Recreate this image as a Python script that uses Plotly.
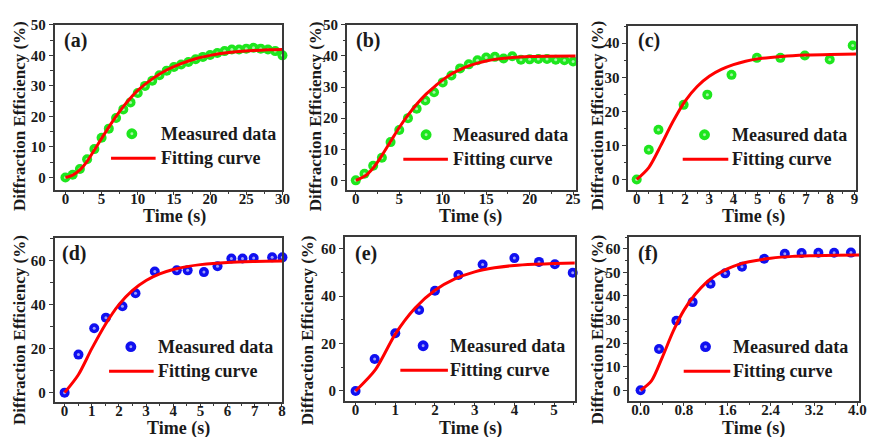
import plotly.graph_objects as go

# the page body keeps the browser's default 8px margin, so the figure starts at (8, 8)
OFF = 8
WIN_W, WIN_H = 875, 437
W, H = WIN_W - OFF, WIN_H - OFF

# ---------------- data ----------------
a_t = list(range(0, 31))
a_meas = [0, 0.9, 2.8, 6.0, 9.3, 13.0, 16.0, 19.5, 22.3, 24.6, 27.7, 30.0, 31.7, 33.5, 35.0, 36.2,
          37.0, 37.8, 38.7, 39.5, 40.1, 40.8, 41.4, 41.9, 41.9, 42.2, 42.5, 42.2, 41.9, 41.4, 40.0]
a_fit_t = [0, 1, 2, 3, 4, 5, 6, 7, 8, 9, 10, 12, 14, 16, 18, 20, 22, 24, 26, 28, 30]
a_fit = [0, 0.8, 2.5, 5.3, 9.0, 12.8, 16.5, 20.0, 23.2, 26.0, 28.5, 32.3, 35.2, 37.3, 38.9, 40.0,
         40.8, 41.3, 41.6, 41.8, 41.9]

b_t = list(range(0, 26))
b_meas = [0, 2.1, 4.7, 7.3, 12.3, 16.2, 20.0, 23.0, 25.7, 28.3, 31.5, 33.7, 36.0, 37.3, 38.6, 39.5,
          39.7, 39.2, 39.9, 38.8, 38.9, 39.0, 39.0, 38.8, 38.6, 38.2]
b_fit_t = [0, 1, 2, 3, 4, 5, 6, 7, 8, 9, 10, 11, 12, 13, 14, 15, 16, 18, 20, 22, 25.3]
b_fit = [0, 1.3, 4.0, 8.0, 12.5, 17.0, 21.0, 24.5, 27.5, 30.0, 32.3, 34.2, 35.6, 36.8, 37.7, 38.4,
         38.9, 39.5, 39.8, 39.9, 40.0]

c_t = [0, 0.5, 0.9, 1.94, 2.92, 3.92, 4.97, 5.94, 6.95, 7.98, 8.93]
c_meas = [0, 8.75, 14.6, 21.9, 24.9, 30.7, 35.7, 35.7, 36.4, 35.2, 39.3]
c_fit_t = [0, 0.5, 1, 1.5, 2, 2.5, 3, 3.5, 4, 4.5, 5, 6, 7, 8, 9.1]
c_fit = [0, 3.5, 10.0, 17.0, 23.0, 27.3, 30.3, 32.3, 33.7, 34.7, 35.4, 36.1, 36.5, 36.7, 36.8]

d_t = [0, 0.51, 1.09, 1.52, 2.13, 2.61, 3.32, 4.13, 4.53, 5.13, 5.63, 6.14, 6.55, 6.96, 7.64, 8.02]
d_meas = [0, 17.3, 29.3, 34.1, 39.3, 45.2, 55.1, 55.6, 55.6, 54.8, 57.5, 61.0, 61.0, 61.2, 61.5, 61.5]
d_fit_t = [0, 0.5, 1, 1.5, 2, 2.5, 3, 3.5, 4, 4.5, 5, 6, 7, 8.05]
d_fit = [0, 8.0, 20.0, 31.0, 40.0, 46.5, 51.0, 54.0, 56.0, 57.3, 58.2, 59.2, 59.6, 59.8]

e_t = [0, 0.48, 1.0, 1.6, 2.0, 2.59, 3.2, 4.0, 4.62, 5.02, 5.47]
e_meas = [0, 13.5, 24.4, 34.2, 42.3, 49.0, 53.4, 56.1, 54.5, 53.5, 49.9]
e_fit_t = [0, 0.5, 1, 1.5, 2, 2.5, 3, 3.5, 4, 4.5, 5, 5.55]
e_fit = [0, 9.0, 24.0, 35.0, 42.5, 47.3, 50.3, 52.0, 53.0, 53.5, 53.8, 54.0]

f_t = [0, 0.34, 0.66, 0.96, 1.29, 1.56, 1.87, 2.28, 2.66, 2.97, 3.28, 3.57, 3.88]
f_meas = [0, 17.5, 29.5, 37.4, 45.2, 49.6, 52.4, 55.8, 57.9, 58.2, 58.3, 58.3, 58.4]
f_fit_t = [0, 0.2, 0.4, 0.6, 0.8, 1.0, 1.2, 1.4, 1.6, 1.8, 2.0, 2.4, 2.8, 3.2, 3.6, 4.05]
f_fit = [0, 4.0, 14.0, 25.0, 34.0, 40.5, 45.5, 49.0, 51.5, 53.3, 54.5, 56.0, 56.8, 57.1, 57.3, 57.4]

panel_labels = ["(a)", "(b)", "(c)", "(d)", "(e)", "(f)"]
legend_names = ["Measured data", "Fitting curve"]
x_title = "Time (s)"
y_title = "Diffraction Efficiency (%)"

# ---------------- styling / layout ----------------
GREEN = "#1ee61e"
BLUE = "#1010f0"
HILITE = "rgba(255,255,255,0.6)"
RED = "#ff0000"
AXC = "#3a3a3a"
TXT = "#1a1a1a"
FONT = "Liberation Serif"

panels = [
    dict(t=a_t, m=a_meas, ft=a_fit_t, f=a_fit, col=GREEN,
         box=(55, 285, 17, 185), xr=[-1.5, 30], yr=[-4, 50], xd=5, xm=2.5, yd=10, ym=5, fmt=None),
    dict(t=b_t, m=b_meas, ft=b_fit_t, f=b_fit, col=GREEN,
         box=(350, 581, 17, 185), xr=[-1.03, 25.3], yr=[-3, 50], xd=5, xm=2.5, yd=10, ym=5, fmt=None),
    dict(t=c_t, m=c_meas, ft=c_fit_t, f=c_fit, col=GREEN,
         box=(634, 864, 18, 185), xr=[-0.35, 9.07], yr=[-3, 45.1], xd=1, xm=0.5, yd=10, ym=5, fmt=None),
    dict(t=d_t, m=d_meas, ft=d_fit_t, f=d_fit, col=BLUE,
         box=(55, 285, 234, 401), xr=[-0.37, 8.02], yr=[-4.1, 70.4], xd=1, xm=0.5, yd=20, ym=10, fmt=None),
    dict(t=e_t, m=e_meas, ft=e_fit_t, f=e_fit, col=BLUE,
         box=(348, 580, 233, 400), xr=[-0.27, 5.52], yr=[-4.1, 65.1], xd=1, xm=0.5, yd=20, ym=10, fmt=None),
    dict(t=f_t, m=f_meas, ft=f_fit_t, f=f_fit, col=BLUE,
         box=(635, 867, 233, 400), xr=[-0.21, 4.03], yr=[-4.4, 65.1], xd=0.8, xm=0.4, yd=10, ym=5, fmt=".1f"),
]

# legend placement in window pixels: (marker cx, marker cy, line x0, line x1, line y, text x)
legend_px = [
    (133, 128, 112, 157, 153, 160),
    (430, 129, 407, 452, 154, 455),
    (711, 129, 689, 735, 154, 737),
    (132, 345, 110, 155, 370, 157),
    (427, 344, 404, 452, 369, 452),
    (712, 345, 690, 737, 370, 738),
]
label_px = [(63, 33), (357, 33), (642, 33), (60, 250), (356, 250), (642, 250)]
# axis-title centres in window pixels: (x-title cx, cy, y-title cx, cy)
title_px = [(176, 212, 19, 110), (475, 212, 318, 110), (760, 212, 603, 110),
            (180, 428, 19, 328), (475, 428, 310, 328), (760, 428, 603, 328)]


def px(x):
    return (x - OFF) / W


def py(y):
    return 1 - (y - OFF) / H


fig = go.Figure()
shapes = []
annotations = []

for i, p in enumerate(panels):
    n = "" if i == 0 else str(i + 1)
    xa, ya = "x" + n, "y" + n
    fig.add_trace(go.Scatter(
        x=p["t"], y=p["m"], mode="markers",
        marker=dict(size=10, color=p["col"], line=dict(width=0)),
        xaxis=xa, yaxis=ya, showlegend=False, name=legend_names[0], cliponaxis=False))
    fig.add_trace(go.Scatter(
        x=p["t"], y=p["m"], mode="markers",
        marker=dict(size=3, color=HILITE, line=dict(width=0)),
        xaxis=xa, yaxis=ya, showlegend=False, hoverinfo="skip", cliponaxis=False))
    fig.add_trace(go.Scatter(
        x=p["ft"], y=p["f"], mode="lines", line=dict(color=RED, width=3, shape="spline", smoothing=0.8),
        xaxis=xa, yaxis=ya, showlegend=False, name=legend_names[1]))

    x0, x1, y0, y1 = p["box"]
    common = dict(showline=True, linecolor=AXC, linewidth=1.5, mirror=True, ticks="outside",
                  ticklen=4, tickwidth=1.3, tickcolor=AXC, showgrid=False, zeroline=False,
                  tickfont=dict(family=FONT, size=15, color=TXT, weight="bold"))
    xaxis = dict(domain=[px(x0), px(x1)], anchor=ya, range=p["xr"], dtick=p["xd"], tick0=0,
                 minor=dict(dtick=p["xm"], tick0=0, ticks="outside", ticklen=2.5, tickcolor=AXC),
                 ticklabelstandoff=-9, **common)
    if p["fmt"]:
        xaxis["tickformat"] = p["fmt"]
    yaxis = dict(domain=[py(y1), py(y0)], anchor=xa, range=p["yr"], dtick=p["yd"], tick0=0,
                 minor=dict(dtick=p["ym"], tick0=0, ticks="outside", ticklen=2.5, tickcolor=AXC),
                 **common)
    fig.update_layout(**{"xaxis" + n: xaxis, "yaxis" + n: yaxis})

    # axis titles
    xtx, xty, ytx, yty = title_px[i]
    annotations.append(dict(text=x_title, xref="paper", yref="paper", x=px(xtx), y=py(xty),
                            xanchor="center", yanchor="middle", showarrow=False, borderpad=0,
                            font=dict(family=FONT, size=18, color=TXT, weight="bold")))
    annotations.append(dict(text=y_title, xref="paper", yref="paper", x=px(ytx), y=py(yty),
                            xanchor="center", yanchor="middle", showarrow=False, textangle=-90,
                            font=dict(family=FONT, size=17, color=TXT, weight="bold")))

    # legend drawn inside each panel
    mcx, mcy, lx0, lx1, ly, tx = legend_px[i]
    r = 5.5
    shapes.append(dict(type="circle", xref="paper", yref="paper",
                       x0=px(mcx - r), x1=px(mcx + r), y0=py(mcy + r), y1=py(mcy - r),
                       fillcolor=p["col"], line=dict(width=0)))
    shapes.append(dict(type="circle", xref="paper", yref="paper",
                       x0=px(mcx - 1.5), x1=px(mcx + 1.5), y0=py(mcy + 1.5), y1=py(mcy - 1.5),
                       fillcolor=HILITE, line=dict(width=0)))
    shapes.append(dict(type="line", xref="paper", yref="paper",
                       x0=px(lx0), x1=px(lx1), y0=py(ly), y1=py(ly),
                       line=dict(color=RED, width=3)))
    for txt, yy in ((legend_names[0], mcy), (legend_names[1], ly)):
        annotations.append(dict(text=txt, xref="paper", yref="paper", x=px(tx), y=py(yy),
                                xanchor="left", yanchor="middle", showarrow=False,
                                font=dict(family=FONT, size=18, color=TXT, weight="bold")))
    lx, lyy = label_px[i]
    annotations.append(dict(text=panel_labels[i], xref="paper", yref="paper", x=px(lx), y=py(lyy),
                            xanchor="left", yanchor="middle", showarrow=False,
                            font=dict(family=FONT, size=20, color=TXT, weight="bold")))

fig.update_layout(width=W, height=H, margin=dict(l=0, r=0, t=0, b=0),
                  paper_bgcolor="white", plot_bgcolor="white",
                  shapes=shapes, annotations=annotations, showlegend=False)

fig.write_html("out.html")
